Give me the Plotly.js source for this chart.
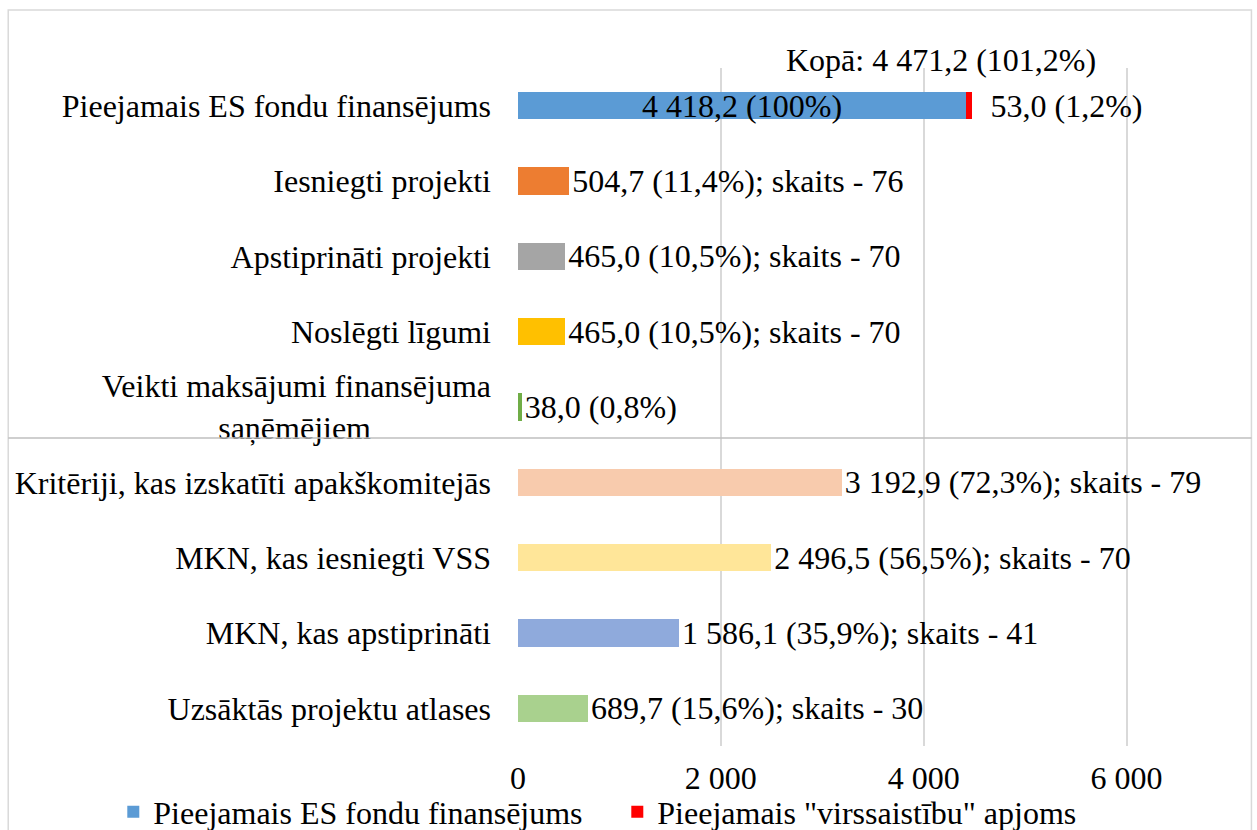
<!DOCTYPE html>
<html>
<head>
<meta charset="utf-8">
<script src="https://cdn.plot.ly/plotly-3.0.1.min.js"></script>
<style>html,body{margin:0;padding:0;background:#fff;}#chart{width:1257px;height:830px;}</style>
</head>
<body>
<div id="chart"></div>
<script>
const categories = [
  "Pieejamais ES fondu finansējums",
  "Iesniegti projekti",
  "Apstiprināti projekti",
  "Noslēgti līgumi",
  "Veikti maksājumi finansējuma<br>saņēmējiem\u00a0\u00a0\u00a0\u00a0\u00a0\u00a0\u00a0\u00a0\u00a0\u00a0\u00a0\u00a0\u00a0\u00a0\u00a0",
  "Kritēriji, kas izskatīti apakškomitejās",
  "MKN, kas iesniegti VSS",
  "MKN, kas apstiprināti",
  "Uzsāktās projektu atlases"
];
const values = [4418.2, 504.7, 465.0, 465.0, 38.0, 3192.9, 2496.5, 1586.1, 689.7];
const percents = [100, 11.4, 10.5, 10.5, 0.8, 72.3, 56.5, 35.9, 15.6];
const counts = [null, 76, 70, 70, null, 79, 70, 41, 30];
const barColors = ["#5b9bd5", "#ed7d31", "#a5a5a5", "#ffc000", "#70ad47", "#f8cbad", "#ffe699", "#8faadc", "#a9d18e"];

const overValue = 53.0;
const overPercent = 1.2;
const totalValue = 4471.2;
const totalPercent = 101.2;

const seriesNames = ["Pieejamais ES fondu finansējums", "Pieejamais \"virssaistību\" apjoms"];

function fmtNum(v) {
  const parts = v.toFixed(1).split(".");
  const intPart = parts[0].replace(/\B(?=(\d{3})+(?!\d))/g, " ");
  return intPart + "," + parts[1];
}
function fmtPct(p) {
  return (Number.isInteger(p) ? String(p) : p.toFixed(1).replace(".", ",")) + "%";
}
const labels = values.map((v, i) => fmtNum(v) + " (" + fmtPct(percents[i]) + ")" + (counts[i] !== null ? "; skaits - " + counts[i] : ""));
const positions = values.map((v, i) => i === 0 ? "inside" : "outside");

const FONT = "Liberation Serif, Times New Roman, serif";
const FS = 32;

const traceMain = {
  type: "bar",
  orientation: "h",
  name: seriesNames[0],
  y: categories,
  x: values,
  marker: {color: barColors},
  text: labels,
  textposition: positions,
  insidetextanchor: "middle",
  textfont: {family: FONT, size: FS, color: "#000"},
  insidetextfont: {family: FONT, size: FS, color: "#000"},
  outsidetextfont: {family: FONT, size: FS, color: "#000"},
  constraintext: "none",
  cliponaxis: false,
  hoverinfo: "x+y"
};
const traceOver = {
  type: "bar",
  orientation: "h",
  name: seriesNames[1],
  y: [categories[0]],
  x: [overValue],
  marker: {color: "#ff0000"},
  text: ["\u00a0\u00a0" + fmtNum(overValue) + " (" + fmtPct(overPercent) + ")"],
  textposition: "outside",
  outsidetextfont: {family: FONT, size: FS, color: "#000"},
  constraintext: "none",
  cliponaxis: false
};

const layout = {
  width: 1257,
  height: 830,
  paper_bgcolor: "#fff",
  plot_bgcolor: "#fff",
  separators: ", ",
  font: {family: FONT, size: FS, color: "#000"},
  margin: {l: 518, r: 28.5, t: 68, b: 84, autoexpand: false},
  barmode: "stack",
  bargap: 0.64,
  showlegend: true,
  legend: {
    orientation: "h",
    x: -0.57, xanchor: "left",
    y: -0.0973, yanchor: "middle",
    font: {family: FONT, size: FS, color: "#000"},
    bgcolor: "rgba(0,0,0,0)",
    traceorder: "normal",
    entrywidth: 459,
    entrywidthmode: "pixels"
  },
  xaxis: {
    range: [0, 7000],
    dtick: 2000,
    tick0: 0,
    tickformat: ",",
    showgrid: true,
    gridcolor: "#d9d9d9",
    gridwidth: 2,
    zeroline: false,
    showline: false,
    ticks: "",
    ticklabelstandoff: 10,
    tickfont: {family: FONT, size: FS, color: "#000"},
    fixedrange: true
  },
  yaxis: {
    autorange: "reversed",
    type: "category",
    showgrid: false,
    zeroline: false,
    showline: false,
    ticks: "",
    ticklabelstandoff: 26,
    tickfont: {family: FONT, size: FS, color: "#000"},
    fixedrange: true
  },
  shapes: [
    {type: "rect", xref: "paper", yref: "paper", x0: -0.718, x1: 1.033, y0: -0.2, y1: 1.0855,
     line: {color: "#d9d9d9", width: 1.5}, fillcolor: "rgba(0,0,0,0)", layer: "below"},
    {type: "line", xref: "paper", yref: "paper", x0: -0.718, x1: 1.033, y0: 0.4543, y1: 0.4543,
     line: {color: "#bfbfbf", width: 1.5}}
  ],
  annotations: [
    {xref: "x", yref: "y", x: totalValue, y: categories[0], xanchor: "center", yanchor: "middle",
     xshift: -31, yshift: 46, showarrow: false,
     text: "Kopā: " + fmtNum(totalValue) + " (" + fmtPct(totalPercent) + ")",
     font: {family: FONT, size: FS, color: "#000"}}
  ]
};

Plotly.newPlot("chart", [traceMain, traceOver], layout, {displayModeBar: false, staticPlot: true});
</script>
</body>
</html>
